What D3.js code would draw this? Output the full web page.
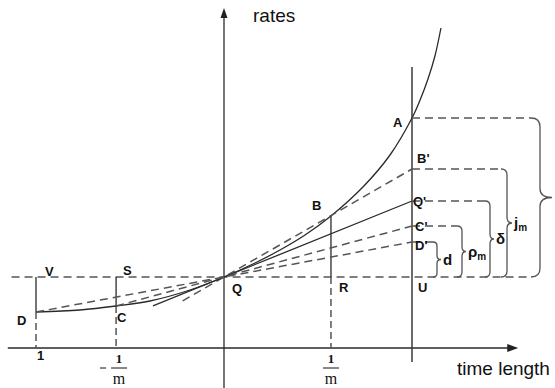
<!DOCTYPE html>
<html>
<head>
    <title>Rates vs time length</title>
    <script src="https://d3js.org/d3.v7.min.js"></script>
    <style>
        body { margin: 0; background: #fff; }
        .lbl { font-family: "Liberation Sans", Arial, sans-serif; font-weight: bold; font-size: 13px; fill: #111; }
        .axis-title { font-family: "Liberation Sans", Arial, sans-serif; font-size: 19px; fill: #111; }
        .frac { font-family: "Liberation Serif", "Times New Roman", serif; font-size: 13px; fill: #111; }
        .solid { fill: none; stroke: #2a2a2a; stroke-width: 1.3; }
        .dash { fill: none; stroke: #555; stroke-width: 1.5; stroke-dasharray: 8,5; }
        .brace { fill: none; stroke: #555; stroke-width: 1.3; }
    </style>
</head>
<body>
<script>
    // curve samples (t = time length, rate)
    const curveT    = [-1, -0.766, -0.574, -0.394, -0.181, 0, 0.165, 0.298, 0.431, 0.569, 0.739, 0.883, 1.0, 1.043, 1.085, 1.122, 1.154];
    const curveRate = [3.6, 3.8, 4.2, 4.7, 5.8, 7.1, 8.5, 9.8, 11.3, 13.2, 16.1, 19.3, 23.0, 24.8, 26.9, 29.2, 32.0];

    // named points on the curve
    const pointNames = ["D", "C", "Q", "B", "A"];
    const pointT     = [-1, -0.574, 0, 0.569, 1];
    const pointRate  = [3.6, 4.2, 7.1, 13.2, 23.0];

    // base level through Q, and its named feet
    const baseRate  = 7.1;
    const baseNames = ["V", "S", "R", "U"];
    const baseT     = [-1, -0.574, 0.569, 1];

    // levels on the right vertical (t = 1)
    const levelNames  = ["A", "B'", "Q'", "C'", "D'"];
    const levelRate   = [23.0, 17.9, 14.7, 12.2, 10.6];
    const braceLabels = ["", "j|m", "δ", "ρ|m", "d"];
    // where the straight lines to those levels start (null = curve itself)
    const lineStartT    = [null, -0.22, -0.378, -0.574, -1];
    const lineStartRate = [null, 4.72, 4.22, 4.2, 3.6];

    // x tick labels
    const tickT      = [-1, -0.574, 0.569];
    const tickLabels = ["1", "-1/m", "1/m"];

    const width = 555, height = 388;

    const x = d3.scaleLinear().domain([-1, 1]).range([36, 412]);
    const y = d3.scaleLinear().domain([0, 10]).range([348, 248]);

    const svg = d3.select("body").append("svg")
        .attr("width", width)
        .attr("height", height);

    // axes
    const axisColor = "#222";
    svg.append("line").attr("class", "solid")
        .attr("x1", x(-1.15)).attr("x2", x(1.53))
        .attr("y1", y(0)).attr("y2", y(0));
    svg.append("path").attr("fill", axisColor)
        .attr("d", `M${x(1.565)},${y(0)} l-11,-4 l0,8 z`);
    svg.append("line").attr("class", "solid")
        .attr("x1", x(0)).attr("x2", x(0))
        .attr("y1", y(-4.2)).attr("y2", y(33.2));
    svg.append("path").attr("fill", axisColor)
        .attr("d", `M${x(0)},${y(34.0)} l-3.5,10 l7,0 z`);

    svg.append("text").attr("class", "axis-title")
        .attr("x", 253).attr("y", 22).text("rates");
    svg.append("text").attr("class", "axis-title")
        .attr("x", 457).attr("y", 375).text("time length");

    // right vertical line at t = 1
    svg.append("line")
        .attr("stroke", "#3a3a3a").attr("stroke-width", 1.5)
        .attr("x1", x(1)).attr("x2", x(1))
        .attr("y1", y(28.1)).attr("y2", y(-1.4));

    // horizontal base level through Q
    svg.append("line").attr("class", "dash")
        .attr("x1", x(-1.13)).attr("x2", x(1.63))
        .attr("y1", y(baseRate)).attr("y2", y(baseRate));

    // vertical feet: solid between base and curve, dashed to the axis
    tickT.forEach((t, i) => {
        const r = d3.zip(curveT, curveRate).find(d => Math.abs(d[0] - t) < 1e-6)[1];
        svg.append("line").attr("class", "solid")
            .attr("x1", x(t)).attr("x2", x(t))
            .attr("y1", y(baseRate)).attr("y2", y(r));
        svg.append("line").attr("class", "dash")
            .style("stroke-dasharray", "7,4")
            .attr("x1", x(t)).attr("x2", x(t))
            .attr("y1", y(Math.min(baseRate, r))).attr("y2", y(0));
    });

    // the curve
    const line = d3.line()
        .x(d => x(d[0]))
        .y(d => y(d[1]))
        .curve(d3.curveCatmullRom.alpha(0.5));
    svg.append("path").attr("class", "solid")
        .attr("d", line(d3.zip(curveT, curveRate)));

    // straight lines through Q to the right vertical
    levelNames.forEach((n, i) => {
        if (lineStartT[i] === null) return;
        svg.append("line")
            .attr("class", n === "Q'" ? "solid" : "dash")
            .attr("x1", x(lineStartT[i])).attr("y1", y(lineStartRate[i]))
            .attr("x2", x(1)).attr("y2", y(levelRate[i]));
    });

    // braces to the right
    const braceX = [540, 507, 490, 462, 437];
    const braceR = [9, 6, 5, 5, 4];
    const braceTip = [12, 5, 4, 4, 4];
    function bracePath(xv, yTop, yBot, tip, r) {
        const ym = (yTop + yBot) / 2;
        const r2 = Math.min(r, (yBot - yTop) / 4);
        return `M${xv - r},${yTop} Q${xv},${yTop} ${xv},${yTop + r}` +
            ` L${xv},${ym - r2} Q${xv},${ym} ${xv + tip},${ym}` +
            ` Q${xv},${ym} ${xv},${ym + r2}` +
            ` L${xv},${yBot - r} Q${xv},${yBot} ${xv - r},${yBot}`;
    }
    levelNames.forEach((n, i) => {
        const yl = y(levelRate[i]);
        svg.append("line").attr("class", "dash")
            .attr("x1", x(1)).attr("x2", braceX[i] - braceR[i])
            .attr("y1", yl).attr("y2", yl);
        svg.append("path").attr("class", "brace")
            .attr("d", bracePath(braceX[i], yl, y(baseRate), braceTip[i], braceR[i]));
        const lab = braceLabels[i];
        if (lab) {
            const parts = lab.split("|");
            const t = svg.append("text").attr("class", "lbl")
                .style("font-size", "15px")
                .attr("x", braceX[i] + braceTip[i] + 2)
                .attr("y", (yl + y(baseRate)) / 2 + 5);
            t.append("tspan").text(parts[0]);
            if (parts[1]) t.append("tspan").style("font-size", "10px").attr("dy", 3).text(parts[1]);
        }
    });

    // point labels on the curve
    const pointOffset = {D: [-19, 13], C: [1, 16], Q: [8, 16], B: [-19, -6], A: [-19, 9]};
    pointNames.forEach((n, i) => {
        svg.append("text").attr("class", "lbl")
            .attr("x", x(pointT[i]) + pointOffset[n][0])
            .attr("y", y(pointRate[i]) + pointOffset[n][1])
            .text(n);
    });

    const baseOffset = {V: [9, -1], S: [7, -2], R: [8, 15], U: [6, 15]};
    baseNames.forEach((n, i) => {
        svg.append("text").attr("class", "lbl")
            .attr("x", x(baseT[i]) + baseOffset[n][0])
            .attr("y", y(baseRate) + baseOffset[n][1])
            .text(n);
    });

    const levelOffset = {"A": [-19, 9], "B'": [5, -6], "Q'": [1, 5], "C'": [3, 5], "D'": [3, 8]};
    levelNames.forEach((n, i) => {
        if (n === "A") return;
        svg.append("text").attr("class", "lbl")
            .attr("x", x(1) + levelOffset[n][0])
            .attr("y", y(levelRate[i]) + levelOffset[n][1])
            .text(n);
    });

    // x tick labels
    tickT.forEach((t, i) => {
        const lab = tickLabels[i];
        if (!lab.includes("/")) {
            svg.append("text").attr("class", "lbl")
                .attr("x", x(t) + 1).attr("y", y(0) + 12).text(lab);
            return;
        }
        const neg = lab.startsWith("-");
        const [num, den] = lab.replace("-", "").split("/");
        const cx = x(t) + (neg ? 3 : 0);
        svg.append("text").attr("class", "frac").style("font-weight", "bold")
            .attr("text-anchor", "middle")
            .attr("x", cx).attr("y", y(0) + 15).text(num);
        svg.append("line").attr("stroke", "#111").attr("stroke-width", 1)
            .attr("x1", cx - 8).attr("x2", cx + 8)
            .attr("y1", y(0) + 20).attr("y2", y(0) + 20);
        svg.append("text").attr("class", "frac")
            .style("font-size", "16px")
            .attr("text-anchor", "middle")
            .attr("x", cx).attr("y", y(0) + 36).text(den);
        if (neg) {
            svg.append("line").attr("stroke", "#111").attr("stroke-width", 1)
                .attr("x1", cx - 19).attr("x2", cx - 13)
                .attr("y1", y(0) + 20).attr("y2", y(0) + 20);
        }
    });
</script>
</body>
</html>
